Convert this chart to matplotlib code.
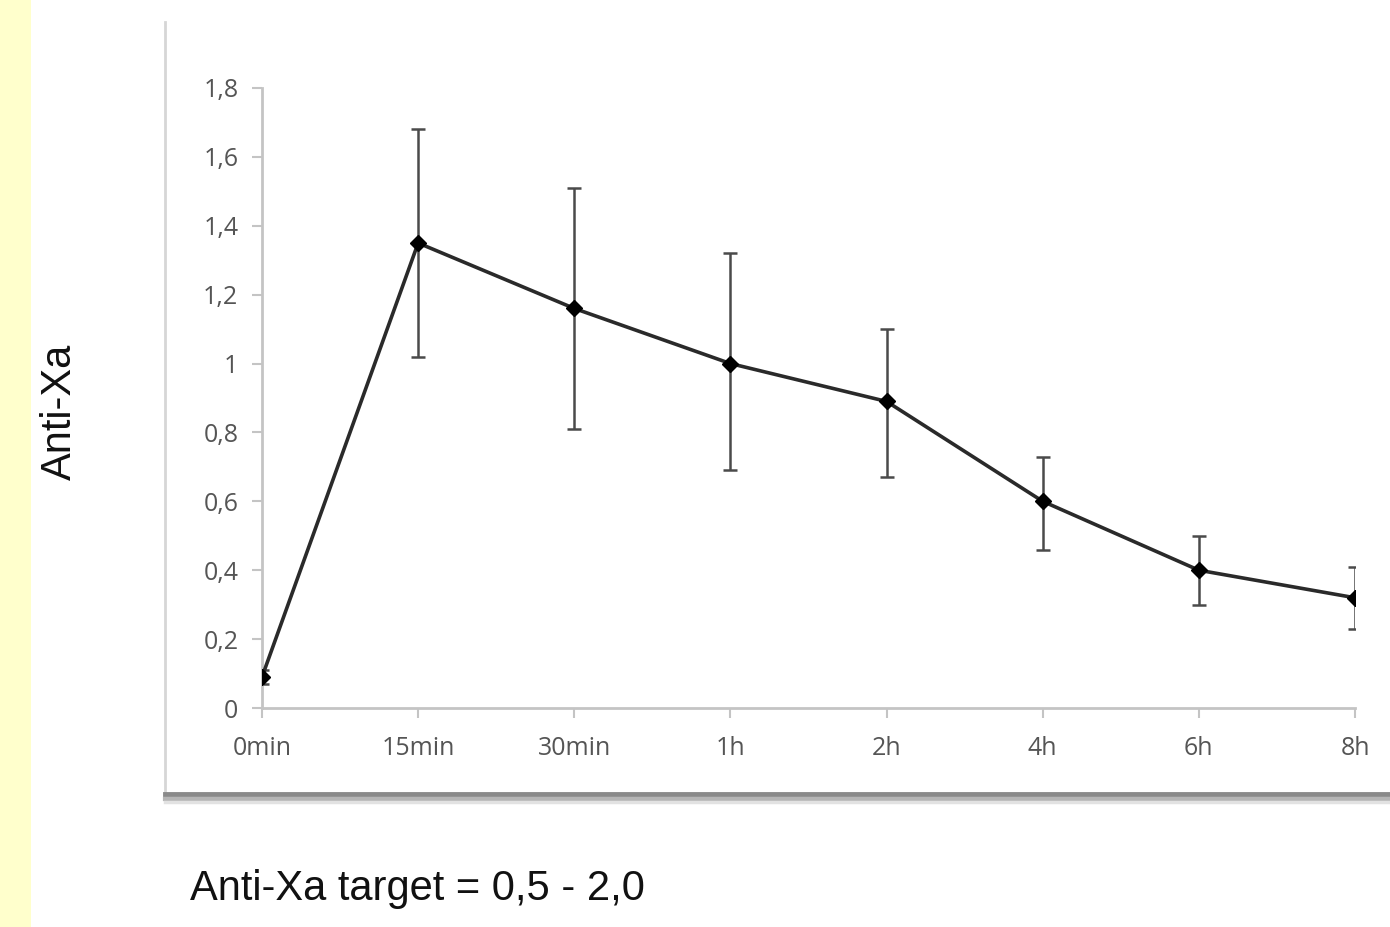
import matplotlib
matplotlib.use("Agg")
import matplotlib.pyplot as plt
from matplotlib.lines import Line2D
from matplotlib.patches import Rectangle

# data
times = ["0min", "15min", "30min", "1h", "2h", "4h", "6h", "8h"]
anti_xa = [0.09, 1.35, 1.16, 1.00, 0.89, 0.60, 0.40, 0.32]
err_low = [0.02, 0.33, 0.35, 0.31, 0.22, 0.14, 0.10, 0.09]
err_high = [0.02, 0.33, 0.35, 0.32, 0.21, 0.13, 0.10, 0.09]
yticks = [0, 0.2, 0.4, 0.6, 0.8, 1.0, 1.2, 1.4, 1.6, 1.8]
ytick_labels = ["0", "0,2", "0,4", "0,6", "0,8", "1", "1,2", "1,4", "1,6", "1,8"]

W, H = 1390, 927
fig = plt.figure(figsize=(13.9, 9.27), dpi=100)
fig.patch.set_facecolor("white")

# yellow stripe on the left
fig.add_artist(Rectangle((0, 0), 31 / W, 1, transform=fig.transFigure,
                         facecolor="#ffffcc", edgecolor="none"))

# panel frame: left edge and bottom shadow
fig.add_artist(Line2D([165 / W, 165 / W], [1 - 22 / H, 1 - 793 / H],
                      transform=fig.transFigure, color="#d6d6d6", lw=2))
fig.add_artist(Line2D([165 / W, 1], [1 - 794 / H, 1 - 794 / H],
                      transform=fig.transFigure, color="#8a8a8a", lw=3.5))
fig.add_artist(Line2D([165 / W, 1], [1 - 798.5 / H, 1 - 798.5 / H],
                      transform=fig.transFigure, color="#b5b5b5", lw=3))
fig.add_artist(Line2D([165 / W, 1], [1 - 802 / H, 1 - 802 / H],
                      transform=fig.transFigure, color="#e2e2e2", lw=2.5))

ax = fig.add_axes([262 / W, 1 - 708 / H, (1355 - 262) / W, (708 - 88) / H])
x = list(range(len(times)))
ax.errorbar(x, anti_xa, yerr=[err_low, err_high], fmt="none",
            ecolor="#4a4a4a", elinewidth=1.8, capsize=5, capthick=1.8, zorder=2)
ax.plot(x, anti_xa, color="#2a2a2a", lw=2.6, marker="D", markersize=8,
        markerfacecolor="black", markeredgecolor="black", zorder=3)

ax.set_xlim(0, len(times) - 1)
ax.set_ylim(0, 1.8)
ax.set_xticks(x)
ax.set_xticklabels(times)
ax.set_yticks(yticks)
ax.set_yticklabels(ytick_labels)
for s in ["top", "right"]:
    ax.spines[s].set_visible(False)
for s in ["left", "bottom"]:
    ax.spines[s].set_color("#c4c4c4")
    ax.spines[s].set_linewidth(2)
ax.tick_params(axis="both", direction="out", length=7, width=1.5,
               color="#c4c4c4", labelcolor="#555555", labelsize=18)
ax.tick_params(axis="x", pad=13)
ax.tick_params(axis="y", pad=10)
for lbl in ax.get_xticklabels() + ax.get_yticklabels():
    lbl.set_family("Open Sans")
ax.patch.set_alpha(0)
for sp in ax.spines.values():
    sp.set_clip_on(False)

fig.text(60 / W, 1 - 412 / H, "Anti-Xa", rotation=90, ha="center", va="center",
         fontsize=30, family="Liberation Sans", color="#111111")
fig.text(190 / W, 1 - 889 / H, "Anti-Xa target = 0,5 - 2,0", ha="left",
         va="center", fontsize=30, family="Liberation Sans", color="#111111")

fig.savefig("out.png", dpi=100)
